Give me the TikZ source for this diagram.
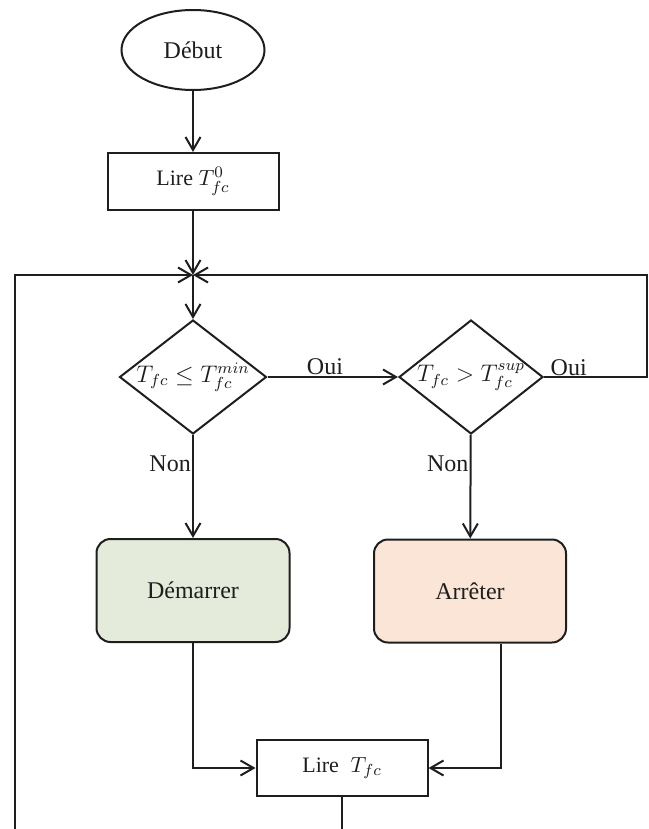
\documentclass[tikz,border=0pt]{standalone}
\usepackage{fontspec}
\setmainfont{Liberation Serif}
\usetikzlibrary{shapes.geometric,arrows.meta}

\definecolor{startgreen}{HTML}{E4EBDB}
\definecolor{stoppeach}{HTML}{FBE5D6}
\definecolor{ink}{HTML}{1E1E1E}

\tikzset{
  line/.style={line width=1pt, draw=ink},
  arr/.style={line, -{Straight Barb[length=6.5pt,width=7.5pt,line width=1pt]}},
  txt/.style={font=\fontsize{12}{14}\selectfont, text=ink},
  startnode/.style={ellipse, line, txt, minimum width=71.5pt, minimum height=40pt, inner sep=0pt},
  iobox/.style={rectangle, line, font=\fontsize{11}{13}\selectfont, text=ink,
                minimum width=85.5pt, minimum height=28.5pt, inner sep=0pt},
  decision/.style={diamond, line, txt, minimum width=73.5pt, minimum height=57pt, inner sep=0pt},
  action/.style={rectangle, rounded corners=7pt, line, txt,
                 minimum width=96.5pt, minimum height=51.5pt, inner sep=0pt},
  lbl/.style={txt, inner sep=0.6pt}
}

\begin{document}
\begin{tikzpicture}[x=0.5pt,y=-0.5pt]
  \useasboundingbox (0,0) rectangle (648,829);
  \clip (0,0) rectangle (648,829);

  % nodes
  \node[startnode] (debut) at (193,50) {Début};
  \node[iobox] (lire0) at (193,181.5) {Lire $T_{fc}^{0}$};
  \coordinate (j) at (193,275);
  \node[decision] (d1) at (193,377) {\makebox[0pt]{$T_{fc}\leq T_{fc}^{min}$}};
  \node[decision, minimum width=72pt] (d2) at (471,377) {\makebox[0pt]{$T_{fc}> T_{fc}^{sup}$}};
  \node[action, fill=startgreen] (dem) at (193,590.5) {Démarrer};
  \node[action, fill=stoppeach, minimum width=96pt] (stop) at (470,591) {Arrêter};
  \node[iobox, minimum height=28pt] (lire) at (342,768) {Lire\; $T_{fc}$};

  % loop corners
  \coordinate (eR) at (647,275);
  \coordinate (eB) at (15,880);

  % connectors
  \draw[arr] (debut) -- (lire0);
  \draw[arr] (lire0) -- (j);
  \draw[arr] (j) -- (d1);
  \draw[arr] (d1) -- node[lbl, above, pos=0.44] {Oui} (d2);
  \draw[arr] (d2.east) -| node[lbl, above, pos=0.12, inner sep=0.2pt] {Oui} (eR) -- (j);
  \draw[arr] (d1) -- node[lbl, left, pos=0.28] {Non} (dem);
  \draw[arr] (d2) -- node[lbl, left, pos=0.28] {Non} (stop);
  \draw[arr] (dem.south) |- (lire.west);
  \draw[arr] ([xshift=15.5pt]stop.south) |- (lire.east);
  \draw[arr] (lire.south) |- (eB) |- (j);
\end{tikzpicture}
\end{document}
